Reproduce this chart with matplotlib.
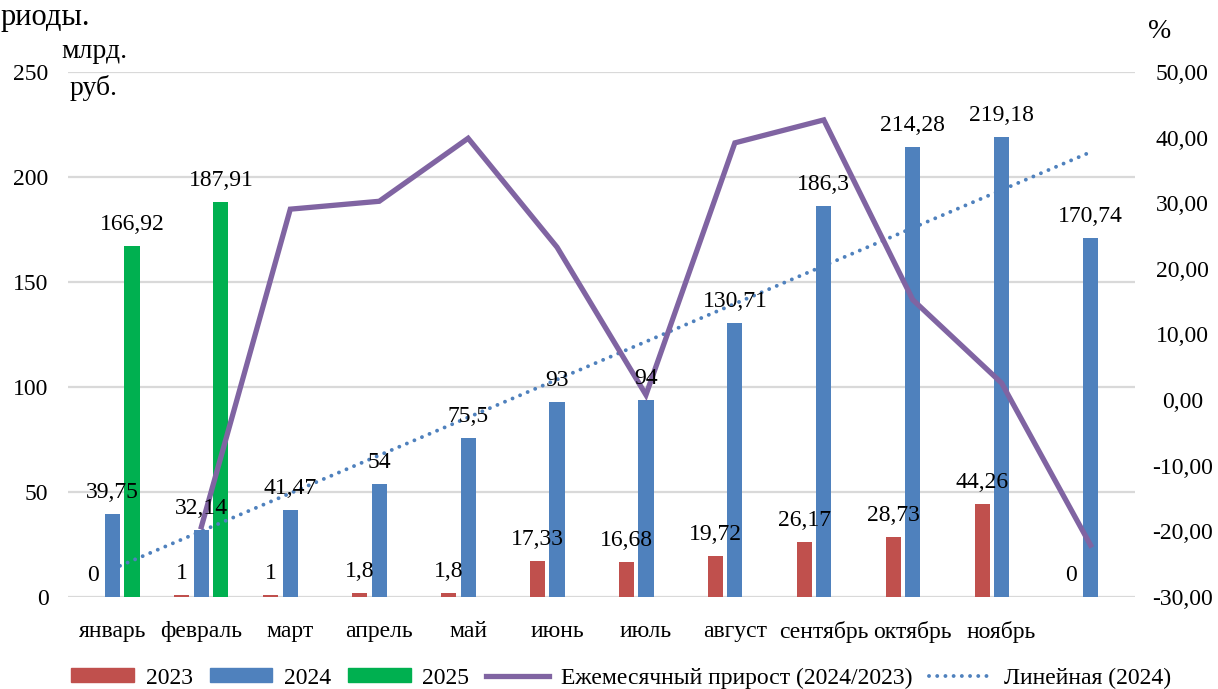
import numpy as np
import matplotlib.pyplot as plt
from matplotlib.patches import Patch
from matplotlib.lines import Line2D

plt.rcParams['font.family'] = ['Liberation Serif', 'DejaVu Serif']
plt.rcParams['axes.unicode_minus'] = False

months = ["январь", "февраль", "март", "апрель", "май", "июнь", "июль",
          "август", "сентябрь", "октябрь", "ноябрь", ""]
v2023 = [0, 1, 1, 1.8, 1.8, 17.33, 16.68, 19.72, 26.17, 28.73, 44.26, 0]
v2024 = [39.75, 32.14, 41.47, 54, 75.5, 93, 94, 130.71, 186.3, 214.28, 219.18, 170.74]
v2025 = [166.92, 187.91]
growth = [-19.3, 29.1, 30.3, 39.9, 23.3, 0.8, 39.2, 42.7, 15.3, 2.6, -22.1]  # февраль..декабрь

c23, c24, c25 = "#C0504D", "#4F81BD", "#00B050"
cpur = "#8064A2"

def fmt(v):
    return f"{v:g}".replace(".", ",")

fig = plt.figure(figsize=(12.18, 6.89), dpi=100)
ax = fig.add_axes([68/1218, 92/689, (1135-68)/1218, 525/689])

x = np.arange(len(months))
w, off = 0.17, 0.22
ax.bar(x - off, v2023, w, color=c23, zorder=2)
ax.bar(x, v2024, w, color=c24, zorder=2)
ax.bar(x[:len(v2025)] + off, v2025, w, color=c25, zorder=2)

fs = 17

# linear trend for 2024
k, b = np.polyfit(x, v2024, 1)
trend_style = dict(color=c24, lw=2.8, linestyle=(0, (0.01, 2.1)), dash_capstyle="round")
ax.plot(x, k * x + b, zorder=4, **trend_style)

ax.set_xlim(-0.5, 11.5)
ax.set_ylim(0, 250)
ax.set_yticks(range(0, 251, 50))
ax.set_xticks(x)
ax.set_xticklabels(months)
ax.grid(axis="y", color="#D9D9D9", lw=1.6, zorder=0)
ax.set_axisbelow(True)
for s in ax.spines.values():
    s.set_visible(False)
ax.tick_params(axis="y", length=0, labelsize=fs, pad=14)
ax.tick_params(axis="x", length=0, labelsize=fs, pad=17)

ax2 = ax.twinx()
ax2.plot(x[1:], growth, color=cpur, lw=3.8, solid_joinstyle="miter", zorder=6)
ax2.set_ylim(-30, 50)
ticks = list(range(-30, 51, 10))
ax2.set_yticks(ticks)
ax2.set_yticklabels([f"{t:.2f}".replace(".", ",") for t in ticks])
for s in ax2.spines.values():
    s.set_visible(False)
ax2.tick_params(axis="y", length=0, labelsize=fs, pad=34)
plt.setp(ax2.get_yticklabels(), ha="center")

# data labels on top of everything
lab = dict(xycoords=ax.transData, textcoords="offset points", xytext=(0, 11.5),
           ha="center", va="baseline", fontsize=fs, zorder=10)
for i, v in enumerate(v2023):
    ax2.annotate(fmt(v), (x[i] - off, v), **lab)
for i, v in enumerate(v2024):
    ax2.annotate(fmt(v), (x[i], v), **lab)
for i, v in enumerate(v2025):
    ax2.annotate(fmt(v), (x[i] + off, v), **lab)

fig.text(1/1218, 1 - 25/689, "риоды.", fontsize=22, ha="left", va="baseline")
fig.text(94/1218, 1 - 58/689, "млрд.", fontsize=20, ha="center", va="baseline")
fig.text(94/1218, 1 - 95/689, "руб.", fontsize=20, ha="center", va="baseline")
fig.text(1160/1218, 1 - 38/689, "%", fontsize=20, ha="center", va="baseline")

handles = [Patch(color=c23), Patch(color=c24), Patch(color=c25),
           Line2D([], [], color=cpur, lw=3.8),
           Line2D([], [], **trend_style)]
labels = ["2023", "2024", "2025", "Ежемесячный прирост (2024/2023)", "Линейная (2024)"]
fig.legend(handles, labels, loc="center", bbox_to_anchor=(621/1218, 11/689), ncol=5,
           frameon=False, fontsize=fs, handlelength=2.65, handleheight=0.5,
           handletextpad=0.5, columnspacing=0.72, borderpad=0)

fig.savefig("out.png", dpi=100)
